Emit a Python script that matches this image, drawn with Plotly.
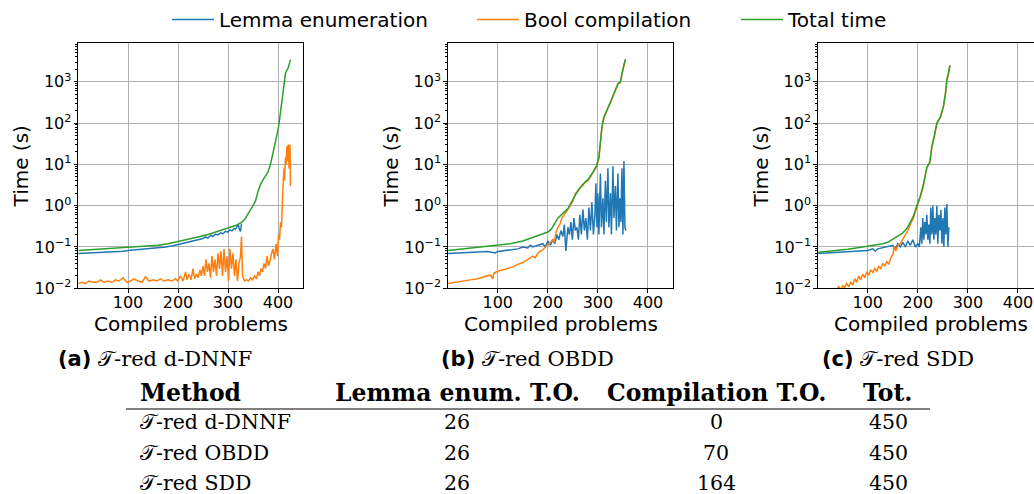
import plotly.graph_objects as go

# ---------------- data ----------------
series_names = ["Lemma enumeration", "Bool compilation", "Total time"]
series_colors = ["#1f77b4", "#ff7f0e", "#2ca02c"]

# Panel (a) T-red d-DNNF
a_lemma_x = [1, 15, 30, 45, 60, 75, 90, 100, 115, 130, 145, 160, 175, 190, 200, 210, 220, 230, 240, 250,
             255, 260, 265, 270, 275, 280, 285, 290, 295, 300, 304, 308, 312, 315, 318, 321, 323, 325, 327]
a_lemma_y = [0.070, 0.071, 0.072, 0.073, 0.074, 0.076, 0.079, 0.082, 0.085, 0.088, 0.092, 0.096, 0.100, 0.107, 0.115,
             0.120, 0.128, 0.138, 0.150, 0.160, 0.175, 0.165, 0.190, 0.180, 0.205, 0.195, 0.220, 0.210, 0.240, 0.230,
             0.260, 0.245, 0.280, 0.270, 0.310, 0.340, 0.260, 0.240, 0.360]
a_bool_x = [1, 8, 15, 22, 30, 38, 45, 52, 60, 68, 75, 82, 90, 98, 105, 112, 120, 128, 135, 142, 150, 158, 165, 172,
            180, 188, 195, 200, 205, 210, 215, 218, 222, 226, 230, 233, 237, 240, 244, 247, 250, 253, 256, 259, 262,
            265, 268, 271, 274, 277, 280, 283, 286, 289, 292, 295, 298, 301, 304, 307, 310, 313, 316, 319, 322, 325,
            327, 329, 333, 337, 341, 345, 349, 353, 357, 360, 363, 366, 369, 372, 375, 378, 381, 384, 387, 390, 393,
            396, 399, 401, 403, 405, 407, 408, 410, 412, 413, 415, 416, 418, 419, 421, 422, 424, 425]
a_bool_y = [0.013, 0.014, 0.013, 0.015, 0.014, 0.014, 0.016, 0.014, 0.015, 0.014, 0.016, 0.015, 0.018, 0.014, 0.015,
            0.017, 0.015, 0.014, 0.019, 0.015, 0.016, 0.015, 0.017, 0.015, 0.016, 0.015, 0.017, 0.015, 0.020, 0.015,
            0.025, 0.016, 0.022, 0.016, 0.030, 0.017, 0.022, 0.018, 0.028, 0.020, 0.035, 0.020, 0.050, 0.025, 0.040,
            0.018, 0.060, 0.025, 0.050, 0.020, 0.070, 0.030, 0.080, 0.020, 0.090, 0.025, 0.060, 0.015, 0.090, 0.030,
            0.070, 0.020, 0.050, 0.015, 0.040, 0.060, 0.180, 0.020, 0.015, 0.016, 0.015, 0.018, 0.016, 0.020, 0.017,
            0.025, 0.020, 0.030, 0.025, 0.040, 0.030, 0.060, 0.035, 0.045, 0.070, 0.090, 0.050, 0.120, 0.060, 0.200,
            0.150, 0.400, 0.300, 1.0, 3.0, 8.0, 4.0, 15.0, 10.0, 28.0, 12.0, 30.0, 8.0, 30.0, 3.0]
a_total_x = [1, 20, 50, 80, 100, 130, 160, 180, 200, 220, 240, 260, 280, 300, 315, 325, 330, 335, 340, 345, 350,
             355, 360, 365, 370, 375, 380, 385, 390, 395, 400, 403, 405, 408, 410, 412, 415, 418, 420, 423, 425]
a_total_y = [0.082, 0.085, 0.090, 0.095, 0.100, 0.105, 0.110, 0.120, 0.135, 0.150, 0.175, 0.200, 0.240, 0.280, 0.330,
             0.380, 0.420, 0.500, 0.650, 0.800, 1.0, 1.3, 2.2, 3.3, 4.2, 5.2, 6.6, 10, 18, 35, 68, 120, 190, 400, 630,
             1000, 1600, 1900, 2100, 2800, 3400]

# Panel (b) T-red OBDD
b_lemma_x = [1, 20, 40, 60, 80, 90, 95, 100, 120, 140, 150, 160, 165, 170, 180, 190, 195, 200, 205, 210, 214, 218,
             222, 226, 230, 233, 236, 240, 243, 246, 249, 252, 255, 258, 261, 264, 267, 270, 273, 276, 279, 282, 285,
             288, 291, 294, 296, 298, 300, 302, 305, 307, 310, 312, 315, 317, 320, 322, 325, 327, 330, 332, 335, 337,
             340, 342, 344, 346, 348, 350, 352, 354, 356]
b_lemma_y = [0.070, 0.072, 0.074, 0.076, 0.078, 0.074, 0.072, 0.078, 0.085, 0.090, 0.100, 0.095, 0.110, 0.100, 0.110,
             0.120, 0.100, 0.140, 0.110, 0.150, 0.120, 0.200, 0.150, 0.250, 0.180, 0.350, 0.080, 0.300, 0.200, 0.400,
             0.150, 0.500, 0.250, 0.300, 0.150, 0.600, 0.200, 0.800, 0.250, 0.500, 0.150, 0.900, 0.250, 1.2, 0.200,
             0.600, 3.5, 0.300, 2.0, 0.200, 6.0, 0.300, 1.5, 0.200, 4.0, 0.400, 8.0, 0.300, 2.0, 0.200, 9.0, 0.500, 3.0,
             0.250, 6.0, 0.300, 1.5, 0.400, 8.0, 0.200, 12.0, 0.300, 0.250]
b_bool_x = [1, 15, 30, 45, 60, 75, 85, 90, 92, 100, 110, 120, 130, 140, 150, 160, 170, 175, 180, 185, 190, 195, 200,
            205, 210, 213, 216, 220, 224, 228, 232, 236, 240, 245, 250, 255, 260, 265, 270, 275, 280, 285, 290, 297,
            302, 305, 308, 312, 318, 325, 332, 340, 345, 348, 352, 355]
b_bool_y = [0.013, 0.014, 0.015, 0.016, 0.017, 0.019, 0.021, 0.017, 0.023, 0.026, 0.028, 0.030, 0.033, 0.038, 0.042,
            0.050, 0.060, 0.055, 0.070, 0.080, 0.085, 0.100, 0.110, 0.130, 0.150, 0.130, 0.220, 0.300, 0.350, 0.500,
            0.600, 0.700, 0.800, 1.0, 1.3, 2.0, 2.2, 2.8, 3.1, 3.8, 4.0, 5.0, 6.2, 8.5, 14, 38, 78, 135, 195, 310, 500,
            870, 960, 1550, 2500, 3400]
b_total_x = [1, 25, 50, 75, 100, 125, 150, 170, 185, 200, 207, 213, 220, 230, 240, 250, 260, 270, 280, 290, 297,
             302, 305, 308, 312, 318, 325, 332, 340, 345, 348, 352, 355]
b_total_y = [0.082, 0.088, 0.093, 0.100, 0.110, 0.120, 0.140, 0.170, 0.200, 0.230, 0.270, 0.350, 0.500, 0.650, 0.850,
             1.4, 2.3, 3.3, 4.2, 6.5, 9, 15, 40, 80, 140, 200, 320, 520, 900, 1000, 1600, 2600, 3500]

# Panel (c) T-red SDD
c_lemma_x = [1, 20, 40, 60, 80, 100, 110, 115, 120, 130, 140, 150, 155, 160, 165, 170, 175, 180, 185, 190, 195, 200,
             203, 206, 208, 210, 212, 214, 216, 218, 220, 222, 224, 226, 228, 230, 232, 234, 236, 238, 240, 242, 244,
             246, 248, 250, 252, 254, 256, 258, 260, 262]
c_lemma_y = [0.070, 0.072, 0.074, 0.076, 0.078, 0.082, 0.090, 0.080, 0.090, 0.095, 0.100, 0.110, 0.090, 0.120, 0.100,
             0.130, 0.100, 0.140, 0.110, 0.150, 0.100, 0.120, 0.100, 0.300, 0.120, 0.500, 0.150, 0.400, 0.200, 0.600,
             0.150, 0.350, 0.120, 0.900, 0.200, 1.0, 0.150, 0.500, 0.200, 1.0, 0.120, 0.600, 0.250, 0.800, 0.120,
             0.500, 0.100, 0.900, 0.200, 1.1, 0.100, 0.300]
c_bool_x = [1, 10, 20, 30, 38, 42, 46, 50, 54, 58, 62, 66, 70, 74, 78, 82, 86, 90, 94, 98, 102, 106, 110, 114, 118,
            122, 126, 130, 134, 138, 142, 146, 150, 153, 156, 160, 165, 170, 175, 180, 185, 191, 198, 205, 211, 218,
            224, 228, 233, 238, 245, 251, 255, 258, 262, 264]
c_bool_y = [0.004, 0.005, 0.006, 0.008, 0.0095, 0.011, 0.009, 0.0115, 0.0105, 0.013, 0.011, 0.014, 0.012, 0.017,
            0.014, 0.020, 0.016, 0.022, 0.018, 0.025, 0.021, 0.028, 0.024, 0.030, 0.026, 0.034, 0.030, 0.040, 0.034,
            0.045, 0.038, 0.055, 0.065, 0.100, 0.080, 0.110, 0.120, 0.150, 0.200, 0.250, 0.350, 0.500, 0.950, 1.65,
            3.1, 8.3, 11.2, 26, 48, 97, 135, 245, 490, 1080, 1750, 2450]
c_total_x = [1, 30, 60, 90, 110, 130, 140, 150, 160, 170, 178, 185, 191, 198, 205, 211, 218, 224, 228, 233, 238,
             245, 251, 255, 258, 262, 264]
c_total_y = [0.075, 0.080, 0.088, 0.100, 0.108, 0.120, 0.130, 0.155, 0.180, 0.220, 0.280, 0.400, 0.550, 1.0, 1.7,
             3.2, 8.5, 11.5, 27, 50, 100, 140, 250, 500, 1100, 1800, 2500]

panel_captions = ["(a)", "(b)", "(c)"]
panel_methods = ["𝒯-red d-DNNF", "𝒯-red OBDD", "𝒯-red SDD"]
x_title = "Compiled problems"
y_title = "Time (s)"

x_tick_vals = [100, 200, 300, 400]
y_tick_vals = [0.01, 0.1, 1, 10, 100, 1000]
y_tick_text = ["10<sup>−2</sup>", "10<sup>−1</sup>", "10<sup>0</sup>", "10<sup>1</sup>", "10<sup>2</sup>", "10<sup>3</sup>"]

# Table
table_header = ["Method", "Lemma enum. T.O.", "Compilation T.O.", "Tot."]
table_methods = ["𝒯-red d-DNNF", "𝒯-red OBDD", "𝒯-red SDD"]
table_lemma_to = [26, 26, 26]
table_comp_to = [0, 70, 164]
table_total = [450, 450, 450]

# ---------------- figure ----------------
W, H = 1034, 494
def px(x):
    return x / W
def py(y):
    return 1 - y / H

panels = [
    (a_lemma_x, a_lemma_y, a_bool_x, a_bool_y, a_total_x, a_total_y),
    (b_lemma_x, b_lemma_y, b_bool_x, b_bool_y, b_total_x, b_total_y),
    (c_lemma_x, c_lemma_y, c_bool_x, c_bool_y, c_total_x, c_total_y),
]
x_domains = [[px(78), px(303)], [px(447.7), px(673)], [px(817.7), 1.0]]
x_ranges = [[0, 450], [0, 450], [0, 450 * (W - 817.7) / 225.3]]
x_title_centers = [191, 561, 931]
y_domain = [py(288.3), py(43.3)]
y_range = [-2, 3.93]
legend_widths = [248, 207, 100]

fig = go.Figure()
for i, p in enumerate(panels):
    xa = "x" if i == 0 else f"x{i+1}"
    ya = "y" if i == 0 else f"y{i+1}"
    for k in range(3):
        fig.add_trace(go.Scatter(
            x=p[2 * k], y=p[2 * k + 1], mode="lines",
            name=series_names[k], legendgroup=series_names[k], showlegend=(i == 0),
            legendwidth=legend_widths[k],
            line=dict(color=series_colors[k], width=1.5),
            xaxis=xa, yaxis=ya,
        ))

minor_vals = [m * 10 ** e for e in range(-2, 4) for m in range(2, 10)]
layout = dict(
    width=W, height=H,
    margin=dict(l=0, r=0, t=0, b=0),
    paper_bgcolor="white", plot_bgcolor="white",
    font=dict(family="DejaVu Sans", color="black"),
    showlegend=True,
    legend=dict(orientation="h", x=px(167), xanchor="left", y=1.0, yanchor="top",
                font=dict(size=20, family="DejaVu Sans"), bgcolor="rgba(0,0,0,0)",
                traceorder="normal", itemwidth=42),
)
for i in range(3):
    sx = "" if i == 0 else str(i + 1)
    layout["xaxis" + sx] = dict(
        domain=x_domains[i], range=x_ranges[i], anchor="y" + sx,
        tickvals=x_tick_vals, ticks="outside", ticklen=3.5, tickwidth=0.8, tickcolor="black",
        tickfont=dict(size=16), ticklabelstandoff=-4,
        showgrid=True, gridcolor="#b0b0b0", gridwidth=0.8, zeroline=False,
        showline=True, linecolor="black", linewidth=0.8, mirror=True,
        automargin=False,
    )
    layout["yaxis" + sx] = dict(
        domain=y_domain, type="log", range=y_range, anchor="x" + sx,
        tickvals=y_tick_vals, ticktext=y_tick_text,
        ticks="outside", ticklen=3.5, tickwidth=0.8, tickcolor="black",
        tickfont=dict(size=16), ticklabelstandoff=-1,
        minor=dict(tickvals=minor_vals, ticks="outside", ticklen=2, tickwidth=0.6, tickcolor="black", showgrid=False),
        showgrid=True, gridcolor="#b0b0b0", gridwidth=0.8, zeroline=False,
        showline=True, linecolor="black", linewidth=0.8, mirror=(i < 2),
        title=dict(text=y_title, font=dict(size=20), standoff=0),
        automargin=False,
    )
fig.update_layout(**layout)

serif = "DejaVu Serif"
annotations = []
for i in range(3):
    annotations.append(dict(
        x=px(x_title_centers[i]), y=py(324), xref="paper", yref="paper", xanchor="center", yanchor="middle",
        text=x_title, showarrow=False, font=dict(family="DejaVu Sans", size=20, color="black"),
    ))
cap_centers = [155, 527.5, 898]
for i in range(3):
    annotations.append(dict(
        x=px(cap_centers[i]), y=py(359), xref="paper", yref="paper", xanchor="center", yanchor="middle",
        text=f"<span style='font-family:DejaVu Sans'><b>{panel_captions[i]}</b></span> {panel_methods[i]}",
        showarrow=False, font=dict(family=serif, size=21, color="black"),
    ))

# table header
hdr_x = [138, 457, 716, 888]
for j, h in enumerate(table_header):
    annotations.append(dict(
        x=px(hdr_x[j]), y=py(393), xref="paper", yref="paper",
        xanchor="left" if j == 0 else "center", yanchor="middle",
        text=f"<b>{h}</b>", showarrow=False, font=dict(family=serif, size=23.5, color="black"),
    ))
row_y = [422, 453, 483]
for r in range(3):
    cells = [table_methods[r], str(table_lemma_to[r]), str(table_comp_to[r]), str(table_total[r])]
    for j, c in enumerate(cells):
        annotations.append(dict(
            x=px(hdr_x[j]), y=py(row_y[r]), xref="paper", yref="paper",
            xanchor="left" if j == 0 else "center", yanchor="middle",
            text=c, showarrow=False, font=dict(family=serif, size=20.5, color="black"),
        ))
fig.update_layout(annotations=annotations)
fig.add_shape(type="line", xref="paper", yref="paper", x0=px(126), x1=px(930), y0=py(409), y1=py(409),
              line=dict(color="black", width=1.2))

fig.write_html("out.html", config={"displayModeBar": False},
               post_script="document.body.style.margin='0px';document.body.style.overflow='hidden';")
